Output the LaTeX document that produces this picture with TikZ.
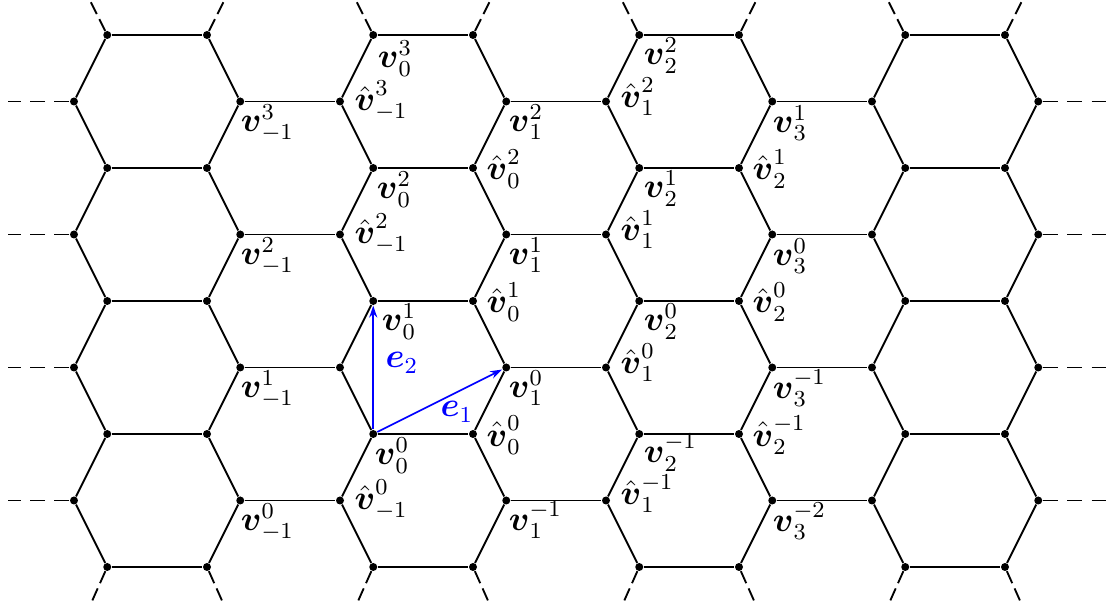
\documentclass[tikz,border=0pt]{standalone}
\usepackage{amsmath,amssymb}
\usetikzlibrary{arrows.meta}
\newcommand\labv[2]{$\boldsymbol{v}_{#1}^{#2}$}
\newcommand\labh[2]{$\hat{\boldsymbol{v}}_{#1}^{#2}$}
\begin{document}
\begin{tikzpicture}[x=0.35pt,y=-0.35pt,
  dot/.style={circle,fill=black,inner sep=0pt,minimum size=2.8pt},
  edge/.style={line width=0.65pt,black},
  hdash/.style={line width=0.65pt,black,dash pattern=on 5.25pt off 3.3pt},
  ddash/.style={line width=0.65pt,black,dash pattern=on 4.6pt off 2pt},
  lab/.style={anchor=base west,inner sep=0pt,font=\fontsize{12}{14}\selectfont},
  vec/.style={line width=0.55pt,blue,-{Stealth[length=4.2pt,width=2.8pt]}},
  veclab/.style={anchor=base west,inner sep=0pt,text=blue,font=\fontsize{12}{14}\selectfont}]
\useasboundingbox (0,0) rectangle (1109,606);
% vertices
\foreach \j in {0,2,4,6,8}
  \foreach \k in {1,4,9,12,17,20,25,28}
    \node[dot] (v-\k-\j) at ({74+33.25*\k},{35+66.5*\j}) {};
\foreach \j in {1,3,5,7}
  \foreach \k in {0,5,8,13,16,21,24,29}
    \node[dot] (v-\k-\j) at ({74+33.25*\k},{35+66.5*\j}) {};
% horizontal edges
\foreach \j in {0,2,4,6,8}
  \foreach \a/\b in {1/4,9/12,17/20,25/28}
    \draw[edge] (v-\a-\j) -- (v-\b-\j);
\foreach \j in {1,3,5,7}
  \foreach \a/\b in {5/8,13/16,21/24}
    \draw[edge] (v-\a-\j) -- (v-\b-\j);
% slanted edges
\foreach \j [evaluate=\j as \jm using {int(\j-1)}, evaluate=\j as \jp using {int(\j+1)}] in {1,3,5,7}
  \foreach \a/\b in {1/0,4/5,9/8,12/13,17/16,20/21,25/24,28/29} {
    \draw[edge] (v-\b-\j) -- (v-\a-\jm);
    \draw[edge] (v-\b-\j) -- (v-\a-\jp);
  }
% dashed continuations
\foreach \j in {1,3,5,7} {
  \coordinate (L-\j) at (8,{35+66.5*\j});
  \coordinate (R-\j) at (1106,{35+66.5*\j});
  \draw[hdash] (v-0-\j) -- (L-\j);
  \draw[hdash] (v-29-\j) -- (R-\j);
}
\foreach \a/\b in {1/0,4/5,9/8,12/13,17/16,20/21,25/24,28/29} {
  \coordinate (T-\a) at ({74+33.25*(\a+\b)/2},1.75);
  \coordinate (B-\a) at ({74+33.25*(\a+\b)/2},604.25);
  \draw[ddash] (v-\a-0) -- (T-\a);
  \draw[ddash] (v-\a-8) -- (B-\a);
}
% labels v
\node[lab] (l-5-1) at ([shift={(0,30)}]v-5-1) {\labv{-1}{3}};
\node[lab] (l-5-3) at ([shift={(0,30)}]v-5-3) {\labv{-1}{2}};
\node[lab] (l-5-5) at ([shift={(0,30)}]v-5-5) {\labv{-1}{1}};
\node[lab] (l-5-7) at ([shift={(0,30)}]v-5-7) {\labv{-1}{0}};
\node[lab] (l-9-0) at ([shift={(4,33)}]v-9-0) {\labv{0}{3}};
\node[lab] (l-9-2) at ([shift={(3,31)}]v-9-2) {\labv{0}{2}};
\node[lab] (l-9-4) at ([shift={(8,30)}]v-9-4) {\labv{0}{1}};
\node[lab] (l-9-6) at ([shift={(1,31)}]v-9-6) {\labv{0}{0}};
\node[lab] (l-13-1) at ([shift={(2,30)}]v-13-1) {\labv{1}{2}};
\node[lab] (l-13-3) at ([shift={(2,30)}]v-13-3) {\labv{1}{1}};
\node[lab] (l-13-5) at ([shift={(2,30)}]v-13-5) {\labv{1}{0}};
\node[lab] (l-13-7) at ([shift={(2,30)}]v-13-7) {\labv{1}{-1}};
\node[lab] (l-17-0) at ([shift={(4,30)}]v-17-0) {\labv{2}{2}};
\node[lab] (l-17-2) at ([shift={(4,30)}]v-17-2) {\labv{2}{1}};
\node[lab] (l-17-4) at ([shift={(4,30)}]v-17-4) {\labv{2}{0}};
\node[lab] (l-17-6) at ([shift={(4,29)}]v-17-6) {\labv{2}{-1}};
\node[lab] (l-21-1) at ([shift={(0,31)}]v-21-1) {\labv{3}{1}};
\node[lab] (l-21-3) at ([shift={(0,31)}]v-21-3) {\labv{3}{0}};
\node[lab] (l-21-5) at ([shift={(0,31)}]v-21-5) {\labv{3}{-1}};
\node[lab] (l-21-7) at ([shift={(0,31)}]v-21-7) {\labv{3}{-2}};
% labels hat v
\node[lab] (h-8-1) at ([shift={(14,9)}]v-8-1) {\labh{-1}{3}};
\node[lab] (h-8-3) at ([shift={(14,9)}]v-8-3) {\labh{-1}{2}};
\node[lab] (h-8-7) at ([shift={(14,9)}]v-8-7) {\labh{-1}{0}};
\node[lab] (h-12-2) at ([shift={(13,12)}]v-12-2) {\labh{0}{2}};
\node[lab] (h-12-4) at ([shift={(13,12)}]v-12-4) {\labh{0}{1}};
\node[lab] (h-12-6) at ([shift={(13,12)}]v-12-6) {\labh{0}{0}};
\node[lab] (h-16-1) at ([shift={(14,6)}]v-16-1) {\labh{1}{2}};
\node[lab] (h-16-3) at ([shift={(14,6)}]v-16-3) {\labh{1}{1}};
\node[lab] (h-16-5) at ([shift={(14,6)}]v-16-5) {\labh{1}{0}};
\node[lab] (h-16-7) at ([shift={(14,4)}]v-16-7) {\labh{1}{-1}};
\node[lab] (h-20-2) at ([shift={(13,12)}]v-20-2) {\labh{2}{1}};
\node[lab] (h-20-4) at ([shift={(13,12)}]v-20-4) {\labh{2}{0}};
\node[lab] (h-20-6) at ([shift={(13,12)}]v-20-6) {\labh{2}{-1}};
% basis vectors
\draw[vec] (v-9-6) -- (v-9-4);
\draw[vec] (v-9-6) -- (v-13-5);
\node[veclab] (e2) at (385,368) {$\boldsymbol{e}_2$};
\node[veclab] (e1) at (440,417) {$\boldsymbol{e}_1$};
\end{tikzpicture}
\end{document}
